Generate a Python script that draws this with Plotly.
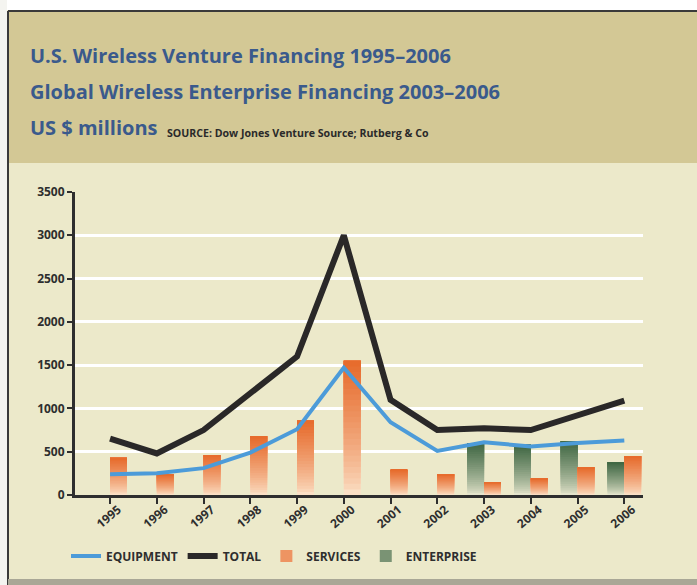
import plotly.graph_objects as go

years = ["1995", "1996", "1997", "1998", "1999", "2000",
         "2001", "2002", "2003", "2004", "2005", "2006"]
equipment = [240, 250, 310, 490, 760, 1470, 840, 510, 610, 560, 600, 630]
total = [650, 480, 750, 1170, 1600, 3000, 1100, 750, 770, 750, 920, 1090]
services = [430, 240, 460, 680, 860, 1550, 290, 240, 150, 190, 320, 450]
enterprise = [None, None, None, None, None, None, None, None, 600, 580, 620, 380]
y_ticks = [0, 500, 1000, 1500, 2000, 2500, 3000, 3500]

W, H = 697, 585
L, R, T, B = 75, 54, 192, 90
PW, PH = W - L - R, H - T - B


def px(x):
    return (x - L) / PW


def py(y):
    return (H - B - y) / PH


CREAM = "#ECE9CA"
TAN = "#D3C895"
BLUE_T = "#3A5A8C"
DARK = "#2E2E2E"
FONT = "Open Sans"
BAR_W = 0.36
N_SHADES = 24


def mix(c1, c2, t):
    return "rgb(%d,%d,%d)" % tuple(round(a + (b - a) * t) for a, b in zip(c1, c2))


fig = go.Figure()


def gradient_bars(values, name, top_rgb, bottom_rgb, offset, rank):
    # overlaid bars sharing the same top, each starting higher: vertical colour fade
    for k in range(N_SHADES):
        f = k / N_SHADES
        base = [None if v is None else v * f for v in values]
        hgt = [None if v is None else v * (1 - f) for v in values]
        fig.add_trace(go.Bar(
            x=years, y=hgt, base=base, name=name,
            offset=offset, width=BAR_W,
            marker=dict(color=mix(bottom_rgb, top_rgb, (f ** 0.75)), line=dict(width=0)),
            showlegend=(k == int(N_SHADES * 0.55)), legendrank=rank,
            hoverinfo="skip" if k else None,
        ))


gradient_bars(enterprise, "ENTERPRISE", (60, 100, 64), (228, 228, 204), -BAR_W, 4)
gradient_bars(services, "SERVICES", (230, 104, 40), (251, 224, 198), 0, 3)
fig.add_trace(go.Scatter(x=years, y=equipment, name="EQUIPMENT", mode="lines",
                         line=dict(color="#4C9BD9", width=4), legendrank=1))
fig.add_trace(go.Scatter(x=years, y=total, name="TOTAL", mode="lines",
                         line=dict(color="#2A2828", width=6), legendrank=2))

shapes = [
    dict(type="rect", xref="paper", yref="paper", x0=px(-5), x1=px(W + 5),
         y0=py(H + 5), y1=py(-5), fillcolor=CREAM, line=dict(width=0), layer="below"),
    dict(type="rect", xref="paper", yref="paper", x0=px(8), x1=px(W + 5),
         y0=py(163), y1=py(11), fillcolor=TAN, line=dict(width=0), layer="below"),
    dict(type="rect", xref="paper", yref="paper", x0=px(-5), x1=px(W + 5),
         y0=py(10), y1=py(-5), fillcolor="#FFFFFF", line=dict(width=0), layer="below"),
    dict(type="rect", xref="paper", yref="paper", x0=px(-5), x1=px(7),
         y0=py(H + 5), y1=py(-5), fillcolor="#F4F4F0", line=dict(width=0), layer="below"),
    dict(type="line", xref="paper", yref="paper", x0=px(8), x1=px(W + 5),
         y0=py(11), y1=py(11), line=dict(color="#3A3A3A", width=2), layer="below"),
    dict(type="line", xref="paper", yref="paper", x0=px(8), x1=px(8),
         y0=py(11), y1=py(H + 5), line=dict(color="#3A3A3A", width=2), layer="below"),
    dict(type="rect", xref="paper", yref="paper", x0=px(8), x1=px(W + 5),
         y0=py(H + 5), y1=py(579), fillcolor="#A9A796", line=dict(width=0), layer="below"),
]

TFONT = dict(family=FONT, size=20, color=BLUE_T, weight=700)
annotations = [
    dict(text="U.S. Wireless Venture Financing 1995–2006", x=px(28), y=py(56), font=TFONT),
    dict(text="Global Wireless Enterprise Financing 2003–2006", x=px(28), y=py(91), font=TFONT),
    dict(text="US $ millions", x=px(28), y=py(127.5), font=TFONT),
    dict(text="SOURCE: Dow Jones Venture Source; Rutberg & Co", x=px(165), y=py(133),
         font=dict(family=FONT, size=10.6, color="#2A2A2A", weight=700)),
]
for a in annotations:
    a.update(xref="paper", yref="paper", xanchor="left", yanchor="middle",
             showarrow=False)

fig.update_layout(
    width=W, height=H,
    margin=dict(l=L, r=R, t=T, b=B, pad=0),
    paper_bgcolor=CREAM, plot_bgcolor=CREAM,
    barmode="overlay",
    font=dict(family=FONT, size=11, color=DARK),
    shapes=shapes, annotations=annotations,
    legend=dict(orientation="h", x=px(66), y=py(556), xanchor="left", yanchor="middle",
                bgcolor="rgba(0,0,0,0)",
                font=dict(family=FONT, size=12, color="#2E2E2E", weight=700),
                itemwidth=30, traceorder="normal"),
    showlegend=True,
)
fig.update_xaxes(type="category", range=[-0.75, 11.4], showgrid=False,
                 showline=True, linecolor=DARK, linewidth=3,
                 ticks="outside", ticklen=6, tickwidth=2, tickcolor=DARK,
                 tickangle=-40, ticklabelshift=8, ticklabelstandoff=-6,
                 tickfont=dict(family=FONT, size=12, color=DARK, weight=700))
fig.update_yaxes(range=[0, 3500], tickvals=y_ticks, showgrid=True,
                 gridcolor="#FFFFFF", gridwidth=2.5, zeroline=False,
                 showline=True, linecolor=DARK, linewidth=3,
                 ticks="outside", ticklen=5, tickwidth=2, tickcolor=DARK,
                 tickfont=dict(family=FONT, size=12, color=DARK, weight=700))

fig.write_html("out.html")
